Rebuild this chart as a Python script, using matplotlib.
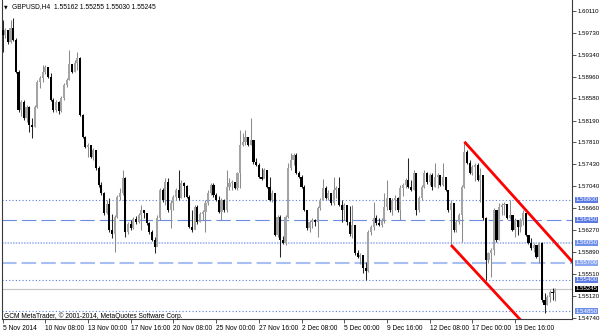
import numpy as np
import matplotlib
matplotlib.use('Agg')
import matplotlib.pyplot as plt
from matplotlib.transforms import blended_transform_factory

plt.rcParams['font.family'] = ['Liberation Sans', 'DejaVu Sans']

# GBPUSD H4 bars (open of each bar = previous close)
first_open = 1.5978
closes = [
    1.5969, 1.5978, 1.5957, 1.5981, 1.5960, 1.5904, 1.5838, 1.5852, 1.5824, 1.5843,
    1.5811, 1.5808, 1.5843, 1.5887, 1.5894, 1.5904, 1.5913, 1.5895, 1.5855, 1.5838,
    1.5852, 1.5836, 1.5859, 1.5881, 1.5890, 1.5918, 1.5904, 1.5920, 1.5929, 1.5829,
    1.5790, 1.5773, 1.5776, 1.5755, 1.5768, 1.5736, 1.5706, 1.5692, 1.5657, 1.5673,
    1.5627, 1.5620, 1.5650, 1.5685, 1.5692, 1.5719, 1.5624, 1.5638, 1.5631, 1.5647,
    1.5642, 1.5654, 1.5663, 1.5657, 1.5640, 1.5624, 1.5610, 1.5598, 1.5649, 1.5698,
    1.5680, 1.5712, 1.5663, 1.5675, 1.5685, 1.5698, 1.5684, 1.5710, 1.5705, 1.5685,
    1.5633, 1.5627, 1.5668, 1.5642, 1.5656, 1.5659, 1.5675, 1.5692, 1.5706, 1.5689,
    1.5680, 1.5659, 1.5680, 1.5663, 1.5703, 1.5710, 1.5712, 1.5701, 1.5727, 1.5776,
    1.5782, 1.5790, 1.5776, 1.5785, 1.5747, 1.5741, 1.5720, 1.5717, 1.5733, 1.5703,
    1.5680, 1.5692, 1.5619, 1.5650, 1.5610, 1.5605, 1.5650, 1.5736, 1.5750, 1.5759,
    1.5727, 1.5720, 1.5703, 1.5663, 1.5631, 1.5642, 1.5645, 1.5642, 1.5666, 1.5680,
    1.5701, 1.5684, 1.5692, 1.5675, 1.5698, 1.5701, 1.5671, 1.5663, 1.5671, 1.5642,
    1.5620, 1.5636, 1.5587, 1.5580, 1.5584, 1.5561, 1.5556, 1.5624, 1.5633, 1.5649,
    1.5640, 1.5636, 1.5645, 1.5668, 1.5684, 1.5663, 1.5680, 1.5684, 1.5663, 1.5701,
    1.5706, 1.5715, 1.5703, 1.5698, 1.5727, 1.5663, 1.5684, 1.5703, 1.5727, 1.5712,
    1.5724, 1.5703, 1.5720, 1.5724, 1.5706, 1.5720, 1.5698, 1.5663, 1.5675, 1.5627,
    1.5642, 1.5654, 1.5703, 1.5764, 1.5745, 1.5727, 1.5738, 1.5741, 1.5715, 1.5724,
    1.5649, 1.5575, 1.5587, 1.5592, 1.5663, 1.5610, 1.5668, 1.5671, 1.5673, 1.5649,
    1.5654, 1.5627, 1.5645, 1.5633, 1.5645, 1.5657, 1.5619, 1.5605, 1.5596, 1.5601,
    1.5580, 1.5605, 1.5505, 1.5496, 1.5510, 1.5519, 1.55162, 1.55245,
]
highs = [
    1.5995, 1.5981, 1.5978, 1.5995, 1.5999, 1.5964, 1.5908, 1.5855, 1.5855, 1.5846,
    1.5845, 1.5824, 1.5846, 1.5890, 1.5897, 1.5916, 1.5916, 1.5913, 1.5902, 1.5859,
    1.5855, 1.5853, 1.5862, 1.5885, 1.5894, 1.5943, 1.5918, 1.5925, 1.5939, 1.5930,
    1.5831, 1.5792, 1.5780, 1.5776, 1.5771, 1.5768, 1.5740, 1.5712, 1.5694, 1.5680,
    1.5684, 1.5656, 1.5654, 1.5689, 1.5701, 1.5733, 1.5720, 1.5642, 1.5645, 1.5650,
    1.5652, 1.5657, 1.5671, 1.5663, 1.5657, 1.5642, 1.5627, 1.5615, 1.5654, 1.5701,
    1.5701, 1.5719, 1.5719, 1.5680, 1.5689, 1.5701, 1.5733, 1.5715, 1.5712, 1.5706,
    1.5689, 1.5663, 1.5671, 1.5671, 1.5659, 1.5663, 1.5680, 1.5698, 1.5710, 1.5710,
    1.5692, 1.5687, 1.5684, 1.5682, 1.5733, 1.5719, 1.5715, 1.5712, 1.5729, 1.5803,
    1.5797, 1.5803, 1.5790, 1.5824, 1.5785, 1.5754, 1.5745, 1.5736, 1.5736, 1.5733,
    1.5720, 1.5698, 1.5692, 1.5654, 1.5654, 1.5617, 1.5654, 1.5745, 1.5762, 1.5762,
    1.5762, 1.5731, 1.5724, 1.5706, 1.5663, 1.5645, 1.5649, 1.5647, 1.5670, 1.5684,
    1.5717, 1.5705, 1.5698, 1.5692, 1.5720, 1.5705, 1.5720, 1.5680, 1.5675, 1.5671,
    1.5670, 1.5671, 1.5636, 1.5592, 1.5587, 1.5584, 1.5571, 1.5627, 1.5636, 1.5677,
    1.5654, 1.5649, 1.5649, 1.5692, 1.5715, 1.5684, 1.5684, 1.5689, 1.5685, 1.5706,
    1.5710, 1.5719, 1.5754, 1.5715, 1.5733, 1.5727, 1.5687, 1.5706, 1.5733, 1.5729,
    1.5727, 1.5727, 1.5745, 1.5727, 1.5724, 1.5745, 1.5720, 1.5698, 1.5680, 1.5675,
    1.5645, 1.5657, 1.5706, 1.5782, 1.5768, 1.5750, 1.5741, 1.5745, 1.5745, 1.5736,
    1.5724, 1.5650, 1.5589, 1.5596, 1.5666, 1.5663, 1.5675, 1.5675, 1.5677, 1.5673,
    1.5680, 1.5654, 1.5649, 1.5645, 1.5649, 1.5663, 1.5657, 1.5619, 1.5613, 1.5605,
    1.5601, 1.5606, 1.5606, 1.5517, 1.5514, 1.5522, 1.5526, 1.55255,
]
lows = [
    1.5939, 1.5964, 1.5953, 1.5955, 1.5958, 1.5902, 1.5834, 1.5827, 1.5820, 1.5817,
    1.5799, 1.5789, 1.5808, 1.5841, 1.5876, 1.5887, 1.5901, 1.5894, 1.5853, 1.5834,
    1.5834, 1.5831, 1.5834, 1.5855, 1.5878, 1.5890, 1.5902, 1.5904, 1.5908, 1.5827,
    1.5789, 1.5771, 1.5755, 1.5754, 1.5750, 1.5733, 1.5703, 1.5689, 1.5654, 1.5656,
    1.5624, 1.5613, 1.5589, 1.5649, 1.5680, 1.5689, 1.5615, 1.5620, 1.5627, 1.5629,
    1.5638, 1.5640, 1.5627, 1.5649, 1.5636, 1.5620, 1.5608, 1.5587, 1.5601, 1.5645,
    1.5677, 1.5671, 1.5659, 1.5631, 1.5663, 1.5680, 1.5680, 1.5684, 1.5685, 1.5684,
    1.5631, 1.5624, 1.5636, 1.5638, 1.5642, 1.5645, 1.5624, 1.5671, 1.5689, 1.5685,
    1.5678, 1.5657, 1.5645, 1.5659, 1.5659, 1.5698, 1.5698, 1.5699, 1.5698, 1.5701,
    1.5775, 1.5776, 1.5775, 1.5776, 1.5743, 1.5740, 1.5719, 1.5715, 1.5719, 1.5701,
    1.5678, 1.5677, 1.5617, 1.5615, 1.5580, 1.5603, 1.5601, 1.5649, 1.5733, 1.5741,
    1.5726, 1.5719, 1.5701, 1.5661, 1.5627, 1.5624, 1.5631, 1.5634, 1.5615, 1.5663,
    1.5680, 1.5682, 1.5680, 1.5671, 1.5671, 1.5684, 1.5670, 1.5642, 1.5645, 1.5636,
    1.5617, 1.5613, 1.5584, 1.5578, 1.5568, 1.5552, 1.5540, 1.5554, 1.5619, 1.5627,
    1.5636, 1.5634, 1.5633, 1.5640, 1.5663, 1.5659, 1.5654, 1.5663, 1.5659, 1.5645,
    1.5687, 1.5701, 1.5701, 1.5696, 1.5698, 1.5654, 1.5659, 1.5680, 1.5701, 1.5708,
    1.5706, 1.5698, 1.5703, 1.5701, 1.5705, 1.5705, 1.5696, 1.5659, 1.5601, 1.5624,
    1.5624, 1.5638, 1.5606, 1.5701, 1.5743, 1.5726, 1.5724, 1.5713, 1.5713, 1.5677,
    1.5645, 1.5540, 1.5570, 1.5545, 1.5584, 1.5606, 1.5610, 1.5654, 1.5654, 1.5647,
    1.5647, 1.5626, 1.5615, 1.5619, 1.5624, 1.5636, 1.5617, 1.5603, 1.5592, 1.5589,
    1.5578, 1.5570, 1.5501, 1.5482, 1.5496, 1.5501, 1.5505, 1.55030,
]

tick_labels = ['5 Nov 2014', '10 Nov 08:00', '13 Nov 00:00', '17 Nov 16:00', '20 Nov 08:00',
               '25 Nov 00:00', '27 Nov 16:00', '2 Dec 08:00', '5 Dec 00:00', '9 Dec 16:00',
               '12 Dec 08:00', '17 Dec 00:00', '19 Dec 16:00']
tick_step = 16  # one label every 16 bars

price_ticks = [1.60110, 1.59730, 1.59340, 1.58960, 1.58580, 1.58190, 1.57810, 1.57430,
               1.57040, 1.56660, 1.56270, 1.55890, 1.55510, 1.55120, 1.54740]

# horizontal levels: price, colour, linestyle, width
levels = [1.56800, 1.56450, 1.56050, 1.55700, 1.55400, 1.54850]
level_colors = ['#5b7be2', '#6b8de6', '#92acf0', '#a8bff4', '#5b7be2', '#5b7be2']
level_box = ['#5b7be2', '#5b7be2', '#6f90ea', '#8aa6ee', '#5b7be2', '#6f90ea']
level_styles = [(0, (1, 2)), (0, (13, 4.5)), (0, (1, 0.8)), (0, (7, 2.4)), (0, (1, 2)), (0, (1, 2))]
level_widths = [0.8, 0.8, 1.1, 1.5, 0.8, 0.8]
bid = 1.55245

# channel lines (bar index, price)
upper_line = ([173, 213], [1.5782, 1.5574])
lower_line = ([168, 194], [1.5601, 1.5470])

closes = np.array(closes)
highs = np.array(highs)
lows = np.array(lows)
opens = np.concatenate([[first_open], closes[:-1]])
x = np.arange(len(closes))
up = closes >= opens

fs = 4.8    # header / time axis
fs_r = 4.4  # price scale

fig = plt.figure(figsize=(6, 3.33), dpi=100)
ax = fig.add_axes([2 / 600, 1 - 319 / 333, 570 / 600, 319 / 333])
ax.set_xlim(-0.2, 213.3)
ax.set_ylim(1.54715, 1.60303)

for lv, c, ls, lw in zip(levels, level_colors, level_styles, level_widths):
    ax.axhline(lv, color=c, linestyle=ls, linewidth=lw, zorder=1)
ax.axhline(bid, color='#c4c4c4', linewidth=0.8, zorder=1)

# candles
ax.vlines(x[up], lows[up], highs[up], color='#8c8c8c', linewidth=0.75, zorder=2)
ax.vlines(x[~up], lows[~up], highs[~up], color='#262626', linewidth=0.75, zorder=2)
body = np.maximum(np.abs(closes - opens), 0.00005)
bottom = np.minimum(opens, closes)
ax.bar(x[up], body[up], bottom=bottom[up], width=0.8, color='#a4a4a4', linewidth=0, zorder=3)
ax.bar(x[~up], body[~up], bottom=bottom[~up], width=0.8, color='#000000', linewidth=0, zorder=3)

# channel rays
for (bx, by) in (upper_line, lower_line):
    slope = (by[1] - by[0]) / (bx[1] - bx[0])
    xe = 220
    ax.plot([bx[0], xe], [by[0], by[0] + slope * (xe - bx[0])], color='#ff0000',
            linewidth=2, solid_capstyle='butt', zorder=4)

# axes styling
for s in ['left', 'bottom', 'right']:
    ax.spines[s].set_color('#3a3a3a')
    ax.spines[s].set_linewidth(0.8)
ax.spines['top'].set_visible(False)

ax.yaxis.tick_right()
ax.set_yticks(price_ticks)
ax.set_yticklabels([f'{p:.5f}' for p in price_ticks])
ax.tick_params(axis='y', length=3, width=0.6, pad=1.2, labelsize=fs_r, color='#3a3a3a')

ax.set_xticks(x[::tick_step][:len(tick_labels)])
ax.set_xticklabels(tick_labels, ha='left')
ax.tick_params(axis='x', length=3, width=0.6, pad=1.2, labelsize=fs, color='#3a3a3a')

# price boxes on the right scale
tr = blended_transform_factory(ax.transAxes, ax.transData)
for lv, c in zip(levels, level_box):
    ax.annotate(f'{lv:.5f}', xy=(1, lv), xycoords=tr, xytext=(2.6, 0), textcoords='offset points',
                ha='left', va='center', fontsize=fs_r, color='white', annotation_clip=False,
                bbox=dict(boxstyle='square,pad=0.1', fc=c, ec='none'))
ax.annotate(f'{bid:.5f}', xy=(1, bid), xycoords=tr, xytext=(2.6, 0), textcoords='offset points',
            ha='left', va='center', fontsize=fs_r, color='white', annotation_clip=False,
            bbox=dict(boxstyle='square,pad=0.1', fc='black', ec='none'))

# header and copyright
fig.text(4 / 600, 1 - 7 / 333, '\u25bc', fontsize=3.4, va='center', ha='left', family='DejaVu Sans')
fig.text(12.5 / 600, 1 - 7 / 333, 'GBPUSD,H4  1.55162 1.55255 1.55030 1.55245',
         fontsize=fs, va='center', ha='left')
fig.text(3.5 / 600, 1 - 316 / 333, 'GCM MetaTrader, \u00a9 2001-2014, MetaQuotes Software Corp.',
         fontsize=fs, va='center', ha='left')

fig.savefig('out.png', dpi=100, facecolor='white')
